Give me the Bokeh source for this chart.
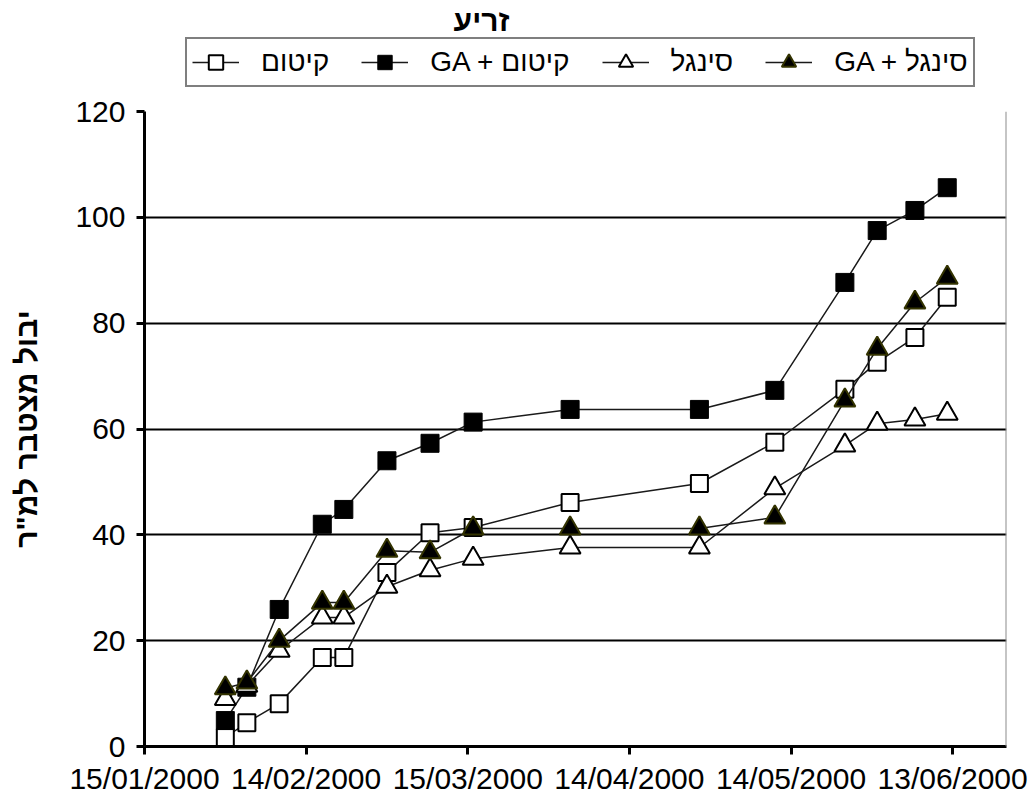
import pandas as pd
from bokeh.plotting import figure
from bokeh.layouts import column
from bokeh.models import (Range1d, FixedTicker, Legend, LegendItem, Span,
                          DatetimeTickFormatter, Label)
from bokeh.embed import file_html
from bokeh.resources import INLINE

# ---- data ----
dates = ["2000-01-30", "2000-02-03", "2000-02-09", "2000-02-17", "2000-02-21",
         "2000-02-29", "2000-03-08", "2000-03-16", "2000-04-03", "2000-04-27",
         "2000-05-11", "2000-05-24", "2000-05-30", "2000-06-06", "2000-06-12"]
kitum = [1.7, 4.5, 8.1, 16.8, 16.8, 32.9, 40.4, 41.4, 46.1, 49.7, 57.5, 67.5, 72.6, 77.3, 84.9]
kitum_ga = [4.9, 11.2, 25.9, 42.0, 44.8, 54.0, 57.3, 61.3, 63.7, 63.7, 67.3, 87.7, 97.5, 101.3, 105.6]
single = [9.0, 11.5, 18.1, 24.4, 24.4, 30.2, 33.3, 35.5, 37.6, 37.6, 48.8, 56.9, 61.0, 61.8, 62.9]
single_ga = [11.0, 12.1, 20.0, 27.2, 27.2, 37.0, 36.7, 41.2, 41.2, 41.2, 43.3, 65.4, 75.2, 83.9, 88.6]

series_names = ["קיטום", "GA + קיטום", "סינגל", "GA + סינגל"]
tick_dates = ["2000-01-15", "2000-02-14", "2000-03-15", "2000-04-14", "2000-05-14", "2000-06-13"]
tick_labels = ["15/01/2000", "14/02/2000", "15/03/2000", "14/04/2000", "14/05/2000", "13/06/2000"]
y_ticks = [0, 20, 40, 60, 80, 100, 120]
x_start, x_end = "2000-01-15", "2000-06-23"
title_text = "זריע"
y_title = "יבול מצטבר למ\"ר"

FONT = "Liberation Sans"
W = 1029
TOP_H = 91
LEFT, RIGHT = 144, 23


def ms(s):
    return pd.Timestamp(s).value / 1e6


x = pd.to_datetime(dates)

# ---------------- main chart ----------------
p = figure(width=W, height=798 - TOP_H, x_axis_type="datetime",
           output_backend="svg", toolbar_location=None,
           x_range=Range1d(ms(x_start), ms(x_end)), y_range=Range1d(0, 120),
           min_border_left=LEFT, min_border_right=RIGHT, min_border_top=20,
           min_border_bottom=52)
p.outline_line_color = None
p.background_fill_color = "white"
p.border_fill_color = "white"

tick_ms = [ms(d) for d in tick_dates]
p.xaxis.ticker = FixedTicker(ticks=tick_ms)
p.xaxis.formatter = DatetimeTickFormatter(days="%d/%m/%Y", months="%d/%m/%Y",
                                          years="%d/%m/%Y", hours="%d/%m/%Y")
p.xaxis.major_label_overrides = {t: l for t, l in zip(tick_ms, tick_labels)}
p.yaxis.ticker = FixedTicker(ticks=y_ticks)
for ax in (p.xaxis, p.yaxis):
    ax.axis_line_width = 3
    ax.axis_line_color = "black"
    ax.major_tick_line_width = 3
    ax.major_tick_line_color = "black"
    ax.major_tick_in = 0
    ax.major_tick_out = 8
    ax.minor_tick_line_color = None
    ax.major_label_text_font = FONT
    ax.major_label_text_font_size = "30px"
    ax.major_label_text_color = "black"
p.xaxis.major_label_standoff = 7
p.yaxis.major_label_standoff = 11
p.yaxis.axis_label = y_title
p.yaxis.axis_label_text_font = FONT
p.yaxis.axis_label_text_font_size = "30px"
p.yaxis.axis_label_text_font_style = "bold"
p.yaxis.axis_label_text_color = "black"
p.yaxis.axis_label_standoff = 29

p.xgrid.grid_line_color = None
p.ygrid.ticker = FixedTicker(ticks=[20, 40, 60, 80, 100])
p.ygrid.grid_line_color = "black"
p.ygrid.grid_line_width = 2

p.add_layout(Span(location=ms(x_end), dimension="height",
                  line_color="#8c8c8c", line_width=2))

styles = [
    dict(marker="square", size=17, fill_color="white", line_color="black", line_width=2),
    dict(marker="square", size=18, fill_color="black", line_color="black", line_width=1),
    dict(marker="triangle", size=21, fill_color="white", line_color="black", line_width=2),
    dict(marker="triangle", size=21, fill_color="black", line_color="#333300", line_width=2),
]
LINE = dict(line_color="#1a1a1a", line_width=1.5)
data = [kitum, kitum_ga, single, single_ga]
for ys, st in zip(data, styles):
    p.line(x, ys, **LINE)
    p.scatter(x, ys, **st)

# ---------------- header: title + legend ----------------
top = figure(width=W, height=TOP_H, output_backend="svg", toolbar_location=None,
             x_range=Range1d(LEFT, W - RIGHT), y_range=Range1d(TOP_H, 0),
             x_axis_location=None, y_axis_location=None,
             min_border_left=LEFT, min_border_right=RIGHT,
             min_border_top=0, min_border_bottom=0)
top.grid.grid_line_color = None
top.outline_line_color = None
top.background_fill_color = "white"
top.border_fill_color = "white"

top.add_layout(Label(x=481, y=20, text=title_text, text_align="center",
                     text_baseline="middle", text_font=FONT,
                     text_font_size="30px", text_font_style="bold",
                     text_color="black"))

# legend entries drawn from the same styles; the data sits far outside this
# header's range, so only the legend glyphs are visible here
items = []
for name, ys, st in zip(series_names, data, styles):
    ln = top.line(x, ys, **LINE)
    sc = top.scatter(x, ys, **st)
    items.append(LegendItem(label=name, renderers=[ln, sc]))

legend = Legend(items=items, orientation="horizontal",
                location=(185 - LEFT, TOP_H - 87),
                border_line_color="black", border_line_width=2,
                background_fill_color="white", background_fill_alpha=1,
                label_text_font=FONT, label_text_font_size="28px",
                label_text_color="black",
                glyph_width=47, glyph_height=36, padding=5, margin=0,
                spacing=32, label_standoff=22)
top.add_layout(legend, "center")

layout = column(top, p, spacing=0)
open("out.html", "w").write(file_html(layout, INLINE))
